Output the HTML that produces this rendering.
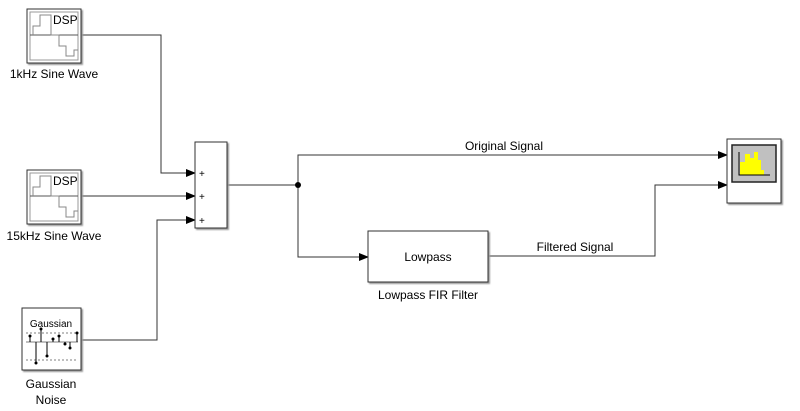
<!DOCTYPE html>
<html><head><meta charset="utf-8"><style>
body{margin:0;background:#fff}
svg{display:block}
text{font-family:"Liberation Sans",sans-serif;font-size:12px;fill:#000}
</style></head><body>
<svg width="800" height="411" viewBox="0 0 800 411">
<defs>
<marker id="a" markerWidth="10" markerHeight="8" refX="9" refY="4" orient="auto" markerUnits="userSpaceOnUse"><path d="M0,0 L10,4 L0,8 Z" fill="#000"/></marker>
<filter id="s"><feDropShadow dx="1.5" dy="1.5" stdDeviation="0.8" flood-color="#999"/></filter>
</defs>
<g fill="none" stroke="#333" stroke-width="1">
<polyline points="81,35 161,35 161,173 195,173" marker-end="url(#a)"/>
<polyline points="81,196 195,196" marker-end="url(#a)"/>
<polyline points="81,340 157,340 157,220 195,220" marker-end="url(#a)"/>
<polyline points="227,185 298,185"/>
<polyline points="298,185 298,155 727,155" marker-end="url(#a)"/>
<polyline points="298,185 298,257 368,257" marker-end="url(#a)"/>
<polyline points="488,256 655,256 655,185 727,185" marker-end="url(#a)"/>
</g>
<circle cx="298" cy="185" r="3" fill="#000"/>
<g id="sw">
<rect x="27" y="9" width="54" height="54" fill="#fff" stroke="#333" filter="url(#s)"/>
<rect x="30" y="12" width="48" height="48" fill="none" stroke="#999"/>
<line x1="30" y1="35" x2="78" y2="35" stroke="#555"/>
<polyline points="33,35 33,26 40,26 40,15 51,15 51,35 59,35 59,46 66,46 66,56 74,56 74,50 78,50" fill="none" stroke="#888"/>
<text x="53" y="24">DSP</text>
</g>
<use href="#sw" y="161"/>
<text x="54" y="78" text-anchor="middle">1kHz Sine Wave</text>
<text x="54" y="240" text-anchor="middle">15kHz Sine Wave</text>
<rect x="22" y="308" width="59" height="62" fill="#fff" stroke="#333" filter="url(#s)"/>
<text x="51" y="327" text-anchor="middle" style="font-size:10px">Gaussian</text>
<g stroke="#555" stroke-width="0.8" fill="none">
<line x1="26" y1="342" x2="78" y2="342"/>
<line x1="26" y1="333" x2="78" y2="333" stroke-dasharray="2,2"/>
<line x1="26" y1="360" x2="78" y2="360" stroke-dasharray="2,2"/>
</g>
<g stroke="#000" stroke-width="1">
<line x1="30" y1="342" x2="30" y2="336"/><line x1="36" y1="342" x2="36" y2="363"/><line x1="41" y1="342" x2="41" y2="329"/><line x1="47" y1="342" x2="47" y2="356"/><line x1="53" y1="342" x2="53" y2="339"/><line x1="59" y1="342" x2="59" y2="336"/><line x1="65" y1="342" x2="65" y2="344"/><line x1="70" y1="342" x2="70" y2="348"/><line x1="77" y1="342" x2="77" y2="333"/>
</g>
<g fill="#000"><circle cx="30" cy="336" r="1.5"/><circle cx="36" cy="363" r="1.5"/><circle cx="41" cy="329" r="1.5"/><circle cx="47" cy="356" r="1.5"/><circle cx="53" cy="339" r="1.5"/><circle cx="59" cy="336" r="1.5"/><circle cx="65" cy="344" r="1.5"/><circle cx="70" cy="348" r="1.5"/><circle cx="77" cy="333" r="1.5"/></g>
<text x="51" y="388" text-anchor="middle">Gaussian</text>
<text x="51" y="404" text-anchor="middle">Noise</text>
<rect x="195" y="142" width="32" height="86" fill="#fff" stroke="#333" filter="url(#s)"/>
<text x="199" y="177" style="font-size:10px">+</text>
<text x="199" y="200" style="font-size:10px">+</text>
<text x="199" y="224" style="font-size:10px">+</text>
<rect x="368" y="231" width="120" height="51" fill="#fff" stroke="#333" filter="url(#s)"/>
<text x="428" y="261" text-anchor="middle">Lowpass</text>
<text x="428" y="299" text-anchor="middle">Lowpass FIR Filter</text>
<text x="504" y="150" text-anchor="middle">Original Signal</text>
<text x="575" y="251" text-anchor="middle">Filtered Signal</text>
<rect x="727" y="139" width="54" height="64" fill="#fff" stroke="#333" filter="url(#s)"/>
<rect x="732" y="145" width="44" height="37" fill="#c0c0c0" stroke="#222" stroke-width="1.5"/>
<path d="M740,175 L740,162 L745,162 L745,154 L750,154 L750,158 L754,158 L754,152 L758,152 L758,160 L761,160 L761,170 L764,170 L764,175 Z" fill="#ffff00"/>
<polyline points="739,152 739,175 770,175" fill="none" stroke="#000"/>
</svg>
</body></html>
